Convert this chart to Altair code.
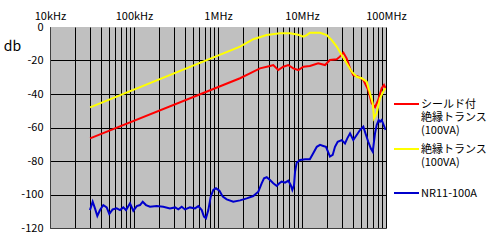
import altair as alt
import pandas as pd

# ---- series names (legend text, lines separated by "|") and colours ----
series_names = ["シールド付|絶縁トランス|(100VA)", "絶縁トランス|(100VA)", "NR11-100A"]
series_colors = ["#ff0000", "#ffff00", "#0000cc"]

# ---- red: shielded isolation transformer ----
red_freq = [30e3, 1.83e6, 2.40e6, 3.16e6, 4.16e6, 4.55e6, 5.22e6, 5.99e6, 6.87e6, 7.87e6,
            9.03e6, 10.4e6, 12.4e6, 15.6e6, 18.8e6, 21.5e6, 25.9e6, 28.3e6, 31.1e6, 34.0e6,
            37.3e6, 40.8e6, 46.8e6, 53.7e6, 61.5e6, 67.6e6, 74.0e6, 80.9e6, 88.8e6, 94.7e6, 99e6]
red_db = [-66.5, -30.6, -27.7, -24.7, -23.3, -22.7, -25.7, -23.7, -22.7, -24.7,
          -25.7, -23.7, -23.3, -21.7, -22.7, -19.7, -19.3, -17.7, -15.3, -18.7,
          -24.7, -28.7, -29.7, -31.6, -37.6, -45.5, -47.9, -43.6, -36.6, -34.6, -36.6]

# ---- yellow: isolation transformer ----
yel_freq = [30e3, 1.83e6, 2.63e6, 3.80e6, 5.47e6, 7.19e6, 9.03e6, 10.4e6, 11.4e6, 12.4e6,
            16.4e6, 19.7e6, 22.6e6, 25.9e6, 29.7e6, 34.0e6, 39.1e6, 44.8e6, 51.4e6, 58.9e6,
            64.5e6, 69.5e6, 72.0e6, 77.5e6, 84.8e6, 94.7e6, 99e6]
yel_db = [-48.0, -11.7, -7.3, -4.8, -3.8, -3.8, -4.6, -5.8, -4.8, -3.4,
          -3.4, -4.8, -7.8, -11.7, -16.7, -21.7, -26.7, -29.7, -30.6, -32.6,
          -39.6, -45.5, -54.5, -51.5, -42.6, -37.6, -36.6]

# ---- blue: NR11-100A ----
blue_freq = [29.9e3, 32.2e3, 34.3e3, 36.6e3, 39.4e3, 43.1e3, 47.3e3, 50.8e3, 55.7e3, 62.2e3,
             68.1e3, 74.6e3, 80.3e3, 89.6e3, 98.1e3, 108e3, 118e3, 127e3, 139e3, 155e3,
             186e3, 223e3, 268e3, 308e3, 337e3, 370e3, 405e3, 464e3, 532e3, 583e3,
             640e3, 681e3, 719e3, 767e3, 819e3, 879e3, 946e3, 1.04e6, 1.14e6, 1.27e6,
             1.52e6, 1.83e6, 2.20e6, 2.63e6, 3.02e6, 3.31e6, 3.53e6, 3.80e6, 4.16e6, 4.55e6,
             5.00e6, 5.37e6, 5.73e6, 6.28e6, 6.87e6, 7.33e6, 7.67e6, 8.04e6, 8.26e6, 8.65e6,
             9.47e6, 10.9e6, 12.4e6, 13.6e6, 15.0e6, 16.4e6, 17.9e6, 19.3e6, 20.6e6, 21.5e6,
             23.2e6, 24.7e6, 26.6e6, 29.7e6, 32.5e6, 34.6e6, 37.3e6, 40.8e6, 44.8e6, 49.0e6,
             53.7e6, 57.8e6, 61.5e6, 65.8e6, 69.5e6, 74.0e6, 77.5e6, 81.8e6, 84.8e6, 88.8e6,
             94.7e6, 99e6]
blue_db = [-109.3, -104.3, -108.3, -112.8, -109.3, -106.3, -107.7, -111.6, -108.9, -108.3,
           -109.3, -107.7, -109.3, -105.3, -109.7, -106.9, -106.3, -104.3, -106.3, -107.3,
           -106.9, -107.3, -108.3, -107.7, -108.9, -107.3, -108.9, -107.7, -108.3, -106.9,
           -109.3, -113.2, -114.2, -109.3, -101.3, -97.3, -96.3, -97.7, -101.3, -102.9,
           -104.3, -103.5, -102.3, -100.9, -98.3, -93.3, -90.3, -89.7, -91.3, -93.3,
           -94.9, -93.3, -92.3, -92.9, -91.7, -94.3, -97.3, -94.3, -86.4, -81.0,
           -79.4, -79.0, -79.0, -75.4, -71.5, -70.4, -71.0, -71.5, -75.0, -77.4,
           -76.4, -71.5, -68.5, -67.5, -69.5, -66.5, -63.5, -67.5, -64.5, -61.5,
           -59.5, -64.5, -68.5, -72.4, -74.4, -63.5, -58.5, -55.5, -56.5, -55.5,
           -59.0, -61.5]

# ---- axis ticks / labels ----
x_grid_values = [k * 10 ** d for d in range(4, 8) for k in range(1, 10)] + [10 ** 8]
x_label_values = [10 ** 4, 10 ** 5, 10 ** 6, 10 ** 7, 10 ** 8]
x_label_texts = ["10kHz", "100kHz", "1MHz", "10MHz", "100MHz"]
y_values = [-120, -100, -80, -60, -40, -20, 0]

rows = []
for name, fr, db in [(series_names[0], red_freq, red_db),
                     (series_names[1], yel_freq, yel_db),
                     (series_names[2], blue_freq, blue_db)]:
    for f, v in zip(fr, db):
        rows.append({"series": name, "freq": f, "db": v})
df = pd.DataFrame(rows)

label_expr = " : ".join(
    f"datum.value == {v} ? '{t}'" for v, t in zip(x_label_values, x_label_texts)
) + " : ''"

FONT = "Noto Sans CJK JP"

lines = alt.Chart(df).mark_line(strokeWidth=2, clip=True).encode(
    x=alt.X("freq:Q",
            scale=alt.Scale(type="log", domain=[1e4, 1e8], nice=False),
            axis=alt.Axis(orient="top", values=x_grid_values, labelExpr=label_expr,
                          grid=True, gridColor="black", gridWidth=1, gridOpacity=1,
                          ticks=False, domain=False, title=None,
                          labelOverlap=False, labelFlush=False, labelPadding=6,
                          labelFont=FONT, labelFontSize=11, labelColor="black")),
    y=alt.Y("db:Q",
            scale=alt.Scale(domain=[-120, 0], nice=False),
            axis=alt.Axis(values=y_values,
                          labelExpr="datum.value == 0 ? '0' : '-' + abs(datum.value)",
                          grid=True,
                          gridColor={"condition": {"test": "datum.value === -120", "value": "#404040"}, "value": "black"},
                          gridOpacity={"condition": {"test": "datum.value === 0", "value": 0}, "value": 1},
                          ticks=False, domain=True, domainColor="#404040",
                          labelPadding=7, labelFont=FONT, labelFontSize=11, labelColor="black",
                          title="db", titleAngle=0, titleX=-38, titleY=19,
                          titleAlign="center", titleBaseline="middle",
                          titleFont=FONT, titleFontSize=14, titleFontWeight="normal",
                          titleColor="black")),
    color=alt.Color("series:N",
                    scale=alt.Scale(domain=series_names, range=series_colors),
                    legend=None),
    order=alt.Order("freq:Q"),
)

# ---- hand-drawn legend (layout constants in pixels, relative to the plot area) ----
legend_row_y = [77, 122, 166]
legend_line_x = (344, 369)
legend_text_x = 371

legend_layers = []
for name, col, ly in zip(series_names, series_colors, legend_row_y):
    ldf = pd.DataFrame({"label": [name]})
    legend_layers.append(
        alt.Chart(ldf).mark_rule(color=col, strokeWidth=2).encode(
            x=alt.value(legend_line_x[0]), x2=alt.value(legend_line_x[1]), y=alt.value(ly)))
    legend_layers.append(
        alt.Chart(ldf).mark_text(align="left", baseline="alphabetic", dy=4, lineBreak="|",
                                 lineHeight=13, font=FONT, fontSize=11, color="black").encode(
            x=alt.value(legend_text_x), y=alt.value(ly), text="label:N"))

chart = alt.layer(lines, *legend_layers).properties(
    width=336, height=201,
    autosize=alt.AutoSizeParams(type="none"),
    padding={"left": 50, "top": 27, "right": 104, "bottom": 21},
    background="white",
).configure_view(
    fill="#c0c0c0", stroke=None
)

chart.save("out.html", embed_options={"renderer": "svg", "actions": False})
